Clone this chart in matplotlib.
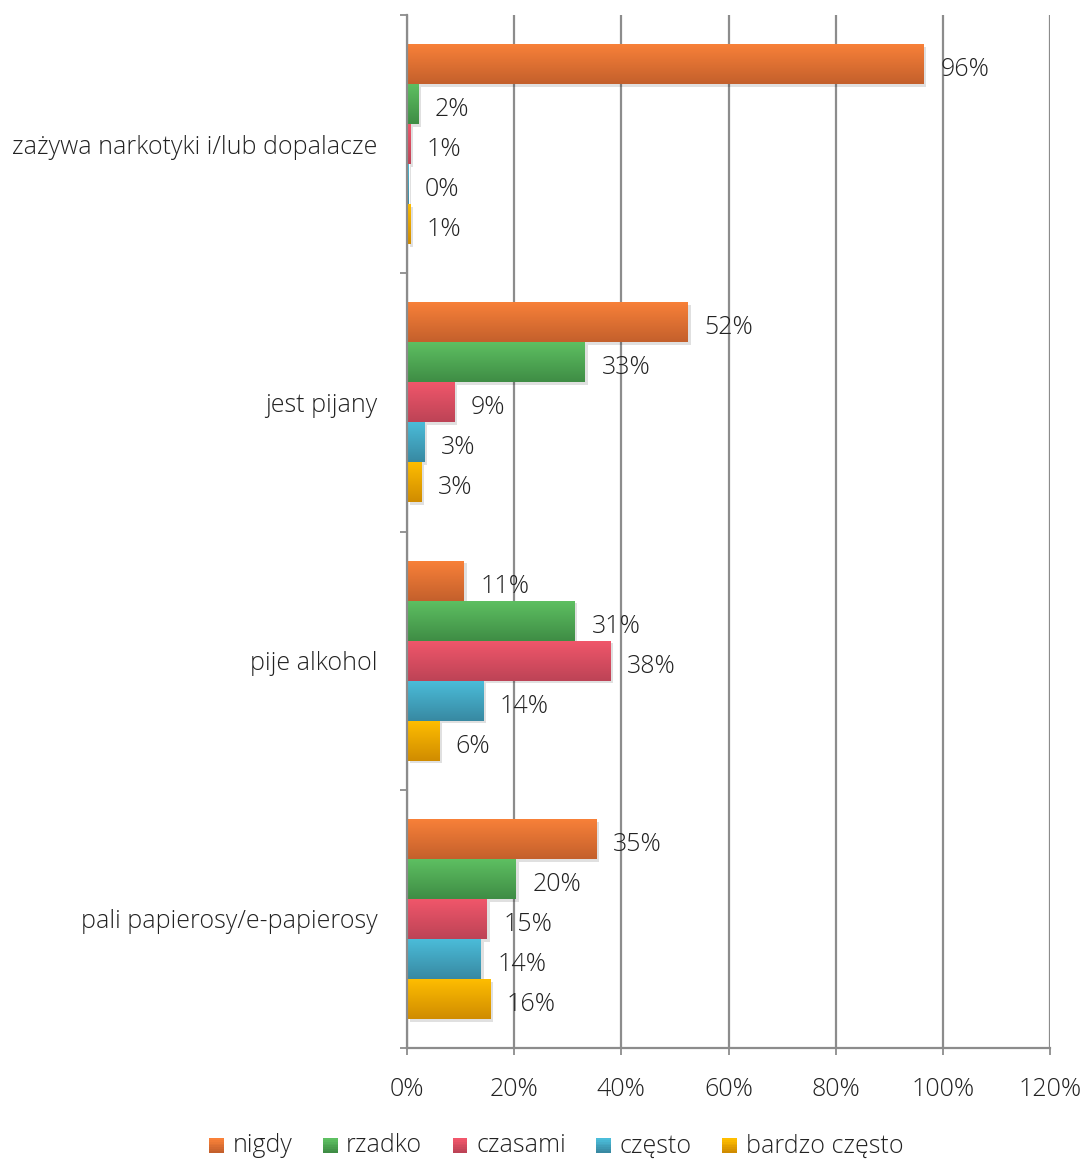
import numpy as np
import matplotlib
matplotlib.use("Agg")
import matplotlib.pyplot as plt
from matplotlib import patheffects as pe
from matplotlib.colors import LinearSegmentedColormap
from matplotlib.patches import Rectangle
from matplotlib.legend_handler import HandlerBase

plt.rcParams['font.family'] = ['Open Sans', 'DejaVu Sans']
plt.rcParams['font.weight'] = 300

categories = ["zażywa narkotyki i/lub dopalacze", "jest pijany", "pije alkohol", "pali papierosy/e-papierosy"]
series = ["nigdy", "rzadko", "czasami", "często", "bardzo często"]
nigdy = [96.4, 52.4, 10.6, 35.4]
rzadko = [2.1, 33.2, 31.3, 20.3]
czasami = [0.6, 8.8, 37.9, 14.9]
czesto = [0.2, 3.2, 14.2, 13.8]
bardzo_czesto = [0.6, 2.7, 6.0, 15.5]
labels = [["96%", "52%", "11%", "35%"],
          ["2%", "33%", "31%", "20%"],
          ["1%", "9%", "38%", "15%"],
          ["0%", "3%", "14%", "14%"],
          ["1%", "3%", "6%", "16%"]]
xticks = [0, 20, 40, 60, 80, 100, 120]
xticklabels = ["0%", "20%", "40%", "60%", "80%", "100%", "120%"]

values = [nigdy, rzadko, czasami, czesto, bardzo_czesto]
grad_colors = [("#F98139", "#C4602C"),
               ("#5EC062", "#3F8D45"),
               ("#F1576B", "#BD4356"),
               ("#4BBDDA", "#3889A2"),
               ("#FFBE00", "#D08C00")]

W, H = 1083, 1160
FS = 18
TXT = "#222222"
fig = plt.figure(figsize=(W / 100, H / 100), dpi=100)
ax = fig.add_axes([407 / W, 1 - 1048 / H, (1050 - 407) / W, (1048 - 15) / H])

n = len(series)
group = 0.775
h = group / n
grid_c = "#8C8C8C"

for s in range(n):
    top, bot = grad_colors[s]
    cmap = LinearSegmentedColormap.from_list(f"g{s}", [top, bot])
    ys = [c - group / 2 + h * (s + 0.5) for c in range(len(categories))]
    bars = ax.barh(ys, values[s], height=h, color=bot, edgecolor="none", zorder=3,
                   label=series[s])
    for b in bars:
        b.set_path_effects([pe.SimplePatchShadow(offset=(2, -2), shadow_rgbFace="#000000", alpha=0.12), pe.Normal()])
        x0, y0 = b.get_x(), b.get_y()
        w_, h_ = b.get_width(), b.get_height()
        if w_ <= 0:
            continue
        grad = np.linspace(0, 1, 64).reshape(-1, 1)
        im = ax.imshow(grad, cmap=cmap, aspect="auto", extent=(x0, x0 + w_, y0 + h_, y0),
                       zorder=4, interpolation="bilinear", origin="upper")
        im.set_clip_path(b)
    for c, y in enumerate(ys):
        ax.annotate(labels[s][c], (values[s][c], y), xytext=(12, -4), textcoords="offset points",
                    ha="left", va="center", fontsize=FS, color=TXT, zorder=6)

ax.set_xlim(0, 120)
ax.set_ylim(len(categories) - 0.5, -0.5)
ax.set_xticks(xticks)
ax.set_xticklabels(xticklabels, fontsize=FS, color=TXT)
ax.set_yticks(range(len(categories)))
ax.set_yticklabels(categories, fontsize=FS, color=TXT)
ax.set_yticks(np.arange(-0.5, len(categories)), minor=True)
ax.tick_params(axis="y", which="major", length=0, pad=21)
ax.tick_params(axis="y", which="minor", length=5, width=1.3, color=grid_c, direction="out")
ax.tick_params(axis="x", which="major", length=5, width=1.3, color=grid_c, pad=16)
ax.xaxis.grid(True, color=grid_c, linewidth=1.6, zorder=0)
ax.set_axisbelow(True)
for side in ["top", "right"]:
    ax.spines[side].set_visible(False)
for side in ["left", "bottom"]:
    ax.spines[side].set_color(grid_c)
    ax.spines[side].set_linewidth(1.6)
    ax.spines[side].set_zorder(5)


class GradHandler(HandlerBase):
    def __init__(self, top, bot):
        super().__init__()
        self.top, self.bot = top, bot

    def create_artists(self, legend, orig_handle, xdescent, ydescent, width, height, fontsize, trans):
        arts = []
        k = 8
        sz = 10.5
        x0 = width - sz
        c1 = np.array(matplotlib.colors.to_rgb(self.top))
        c2 = np.array(matplotlib.colors.to_rgb(self.bot))
        for i in range(k):
            t = i / (k - 1)
            col = c1 * (1 - t) + c2 * t
            r = Rectangle((x0 - xdescent, -ydescent + height / 2 + sz / 2 - 1.5 - (i + 1) * sz / k), sz, sz / k + 0.3,
                          facecolor=col, edgecolor="none", transform=trans)
            arts.append(r)
        return arts


handles = [Rectangle((0, 0), 1, 1) for _ in series]
hmap = {hd: GradHandler(*grad_colors[i]) for i, hd in enumerate(handles)}
fig.legend(handles, series, handler_map=hmap, loc="center", bbox_to_anchor=(556 / W, 1 - 1146 / H),
           ncol=5, frameon=False, fontsize=FS, handlelength=0.6, handletextpad=0.35,
           columnspacing=1.2, labelcolor=TXT)

fig.savefig("out.png", dpi=100)
